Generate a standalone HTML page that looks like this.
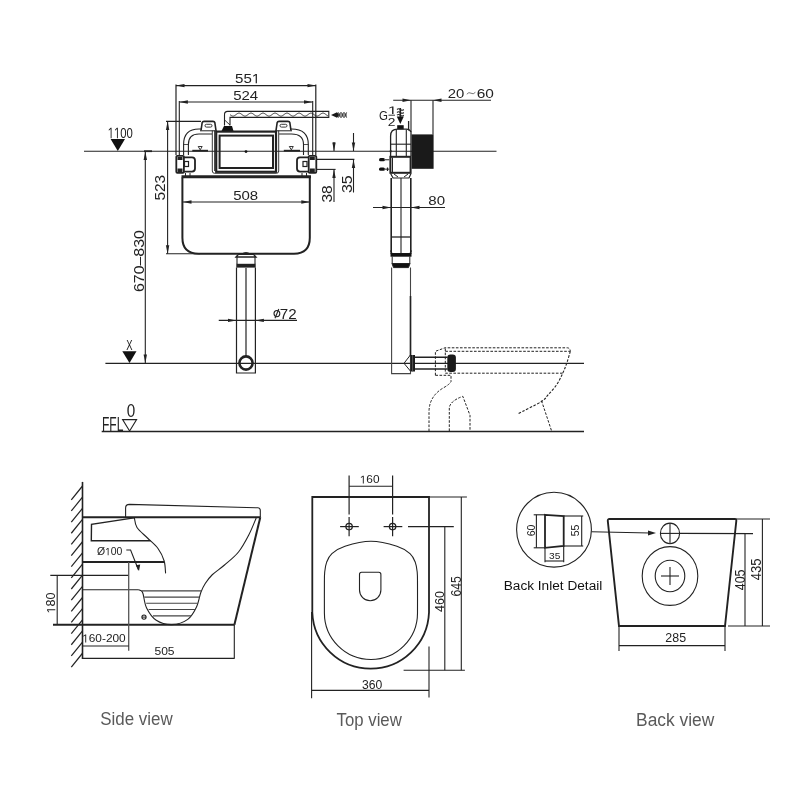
<!DOCTYPE html>
<html><head><meta charset="utf-8"><style>
html,body{margin:0;padding:0;background:#fff;}
svg{display:block;will-change:transform;}
text{font-family:"Liberation Sans",sans-serif;}
</style></head><body>
<svg width="800" height="800" viewBox="0 0 800 800">
<rect x="0" y="0" width="800" height="800" fill="#fff"/>
<line x1="84" y1="151.2" x2="496.5" y2="151.2" stroke="#222" stroke-width="1.1" />
<line x1="105.4" y1="363.3" x2="584" y2="363.3" stroke="#222" stroke-width="1.3" />
<line x1="101.7" y1="431.5" x2="584" y2="431.5" stroke="#222" stroke-width="1.3" />
<polygon points="110.6,139 125,139 117.8,151" stroke="#222" stroke-width="0" fill="#111" />
<text transform="translate(107.71,138.35) scale(0.730,1)" font-size="15.54" fill="#222" font-family="Liberation Sans" font-weight="normal">  00</text>
<path transform="translate(107.71,138.35) scale(0.730,1)" d="M5.280,0.000 L5.280,-10.689 L4.021,-10.689 L1.494,-8.952 L1.494,-7.662 L4.021,-9.384 L4.021,0.000 Z" fill="#222"/>
<path transform="translate(107.71,138.35) scale(0.730,1)" d="M13.921,0.000 L13.921,-10.689 L12.661,-10.689 L10.135,-8.952 L10.135,-7.662 L12.661,-9.384 L12.661,0.000 Z" fill="#222"/>
<polygon points="122.3,351.3 136.5,351.3 129.5,363" stroke="#222" stroke-width="0" fill="#111" />
<text transform="translate(126.29,350.00) scale(0.651,1)" font-size="14.54" fill="#222" font-family="Liberation Sans" font-weight="normal">X</text>
<polygon points="122.6,419.6 136.6,419.6 129.6,431" stroke="#222" stroke-width="1.1" fill="none" />
<text transform="translate(102.01,431.00) scale(0.604,1)" font-size="19.91" fill="#222" font-family="Liberation Sans" font-weight="normal">FFL</text>
<text transform="translate(126.80,417.43) scale(0.858,1)" font-size="17.80" fill="#222" font-family="Liberation Sans" font-weight="normal">0</text>
<line x1="176" y1="85.6" x2="316" y2="85.6" stroke="#222" stroke-width="1.1" />
<polygon points="176.00,85.60 184.50,83.90 184.50,87.30" fill="#222" stroke="none"/>
<polygon points="316.00,85.60 307.50,83.90 307.50,87.30" fill="#222" stroke="none"/>
<line x1="176" y1="84.4" x2="176" y2="155" stroke="#222" stroke-width="1.2" />
<line x1="315.8" y1="84.4" x2="315.8" y2="155" stroke="#222" stroke-width="1.2" />
<text transform="translate(235.00,83.37) scale(1.108,1)" font-size="13.62" fill="#222" font-family="Liberation Sans" font-weight="normal">55 </text>
<path transform="translate(235.00,83.37) scale(1.108,1)" d="M19.771,0.000 L19.771,-9.367 L18.668,-9.367 L16.454,-7.845 L16.454,-6.714 L18.668,-8.224 L18.668,0.000 Z" fill="#222"/>
<line x1="179.4" y1="102" x2="312.5" y2="102" stroke="#222" stroke-width="1.1" />
<polygon points="179.40,102.00 187.90,100.30 187.90,103.70" fill="#222" stroke="none"/>
<polygon points="312.50,102.00 304.00,100.30 304.00,103.70" fill="#222" stroke="none"/>
<line x1="179.3" y1="101" x2="179.3" y2="155" stroke="#222" stroke-width="1.1" />
<line x1="312.7" y1="101" x2="312.7" y2="155" stroke="#222" stroke-width="1.1" />
<text transform="translate(233.15,99.87) scale(1.130,1)" font-size="13.28" fill="#222" font-family="Liberation Sans" font-weight="normal">524</text>
<line x1="166" y1="121.4" x2="201" y2="121.4" stroke="#222" stroke-width="1.1" />
<line x1="167.6" y1="121.4" x2="167.6" y2="253.8" stroke="#222" stroke-width="1.1" />
<polygon points="167.60,121.40 165.90,129.90 169.30,129.90" fill="#222" stroke="none"/>
<polygon points="167.60,253.80 165.90,245.30 169.30,245.30" fill="#222" stroke="none"/>
<line x1="166" y1="253.8" x2="200" y2="253.8" stroke="#222" stroke-width="1.1" />
<text transform="translate(165.45,200.62) rotate(-90) scale(1.029,1)" font-size="14.97" fill="#222" font-family="Liberation Sans" font-weight="normal">523</text>
<line x1="145.3" y1="151.2" x2="145.3" y2="363.3" stroke="#222" stroke-width="1.1" />
<polygon points="145.30,151.50 143.60,160.00 147.00,160.00" fill="#222" stroke="none"/>
<polygon points="145.30,363.00 143.60,354.50 147.00,354.50" fill="#222" stroke="none"/>
<line x1="144" y1="151.2" x2="152" y2="151.2" stroke="#222" stroke-width="1.8" />
<text transform="translate(143.60,292.06) rotate(-90) scale(1.050,1)" font-size="15.18" fill="#222" font-family="Liberation Sans" font-weight="normal">670–830</text>
<path d="M182.4,177.5 V237.8 Q182.4,253.7 198.6,253.7 H294 Q309.8,253.7 309.8,237.8 V177.5" stroke="#222" stroke-width="2.0" fill="none" />
<line x1="181.5" y1="176.7" x2="311" y2="176.7" stroke="#222" stroke-width="3" />
<line x1="182.5" y1="202" x2="310" y2="202" stroke="#222" stroke-width="1.1" />
<polygon points="183.00,202.00 191.50,200.30 191.50,203.70" fill="#222" stroke="none"/>
<polygon points="309.80,202.00 301.30,200.30 301.30,203.70" fill="#222" stroke="none"/>
<text transform="translate(233.15,199.87) scale(1.129,1)" font-size="13.28" fill="#222" font-family="Liberation Sans" font-weight="normal">508</text>
<path d="M236.5,267.5 V373 H255.4 V267.5" stroke="#222" stroke-width="1.2" fill="none" />
<line x1="246" y1="268" x2="246" y2="357" stroke="#222" stroke-width="1.2" />
<path d="M236,257 L238.5,254.3 H253.5 L256,257 Z" stroke="#222" stroke-width="1.3" fill="none" />
<path d="M241.5,254.3 Q246,250.8 250.5,254.3" stroke="#222" stroke-width="1" fill="none" />
<line x1="237" y1="257" x2="237" y2="264" stroke="#222" stroke-width="1.1" />
<line x1="255" y1="257" x2="255" y2="264" stroke="#222" stroke-width="1.1" />
<rect x="236.3" y="263.8" width="19.399999999999977" height="3.8000000000000114" fill="#222"/>
<circle cx="246" cy="363" r="6.6" stroke="#222" stroke-width="2.6" fill="none"/>
<line x1="218.75" y1="320.4" x2="297" y2="320.4" stroke="#222" stroke-width="1.1" />
<polygon points="236.50,320.40 228.00,318.70 228.00,322.10" fill="#222" stroke="none"/>
<polygon points="255.40,320.40 263.90,318.70 263.90,322.10" fill="#222" stroke="none"/>
<text transform="translate(279.82,318.60) scale(1.101,1)" font-size="13.75" fill="#222" font-family="Liberation Sans" font-weight="normal">72</text>
<ellipse cx="276.9" cy="313.6" rx="2.9" ry="3.1" stroke="#222" stroke-width="1.1" fill="none"/>
<line x1="275.0" y1="318.2" x2="278.8" y2="309.0" stroke="#222" stroke-width="1.1" />
<line x1="334" y1="142" x2="334" y2="151" stroke="#222" stroke-width="1.1" />
<polygon points="334.00,151.00 332.30,142.50 335.70,142.50" fill="#222" stroke="none"/>
<line x1="334" y1="169.4" x2="334" y2="202" stroke="#222" stroke-width="1.1" />
<polygon points="334.00,169.40 332.30,177.90 335.70,177.90" fill="#222" stroke="none"/>
<line x1="316" y1="169.4" x2="335.6" y2="169.4" stroke="#222" stroke-width="1.1" />
<text transform="translate(331.86,202.59) rotate(-90) scale(1.099,1)" font-size="14.12" fill="#222" font-family="Liberation Sans" font-weight="normal">38</text>
<line x1="353.5" y1="133" x2="353.5" y2="151" stroke="#222" stroke-width="1.1" />
<polygon points="353.50,151.00 351.80,142.50 355.20,142.50" fill="#222" stroke="none"/>
<line x1="353.5" y1="159.4" x2="353.5" y2="192.5" stroke="#222" stroke-width="1.1" />
<polygon points="353.50,159.40 351.80,167.90 355.20,167.90" fill="#222" stroke="none"/>
<line x1="316" y1="159.4" x2="354.4" y2="159.4" stroke="#222" stroke-width="1.1" />
<text transform="translate(351.85,193.11) rotate(-90) scale(1.029,1)" font-size="15.54" fill="#222" font-family="Liberation Sans" font-weight="normal">35</text>
<path d="M224.5,125.5 V114.5 Q224.5,111.4 227.6,111.4 H328.8 V117.4 H230 V125.5" stroke="#222" stroke-width="1.1" fill="none" />
<path d="M230.0,114.60 L230.5,114.99 L231.0,115.35 L231.5,115.66 L232.0,115.90 L232.5,116.05 L233.0,116.10 L233.5,116.05 L234.0,115.90 L234.5,115.66 L235.0,115.35 L235.5,114.99 L236.0,114.60 L236.5,114.21 L237.0,113.85 L237.5,113.54 L238.0,113.30 L238.5,113.15 L239.0,113.10 L239.5,113.15 L240.0,113.30 L240.5,113.54 L241.0,113.85 L241.5,114.21 L242.0,114.60 L242.5,114.99 L243.0,115.35 L243.5,115.66 L244.0,115.90 L244.5,116.05 L245.0,116.10 L245.5,116.05 L246.0,115.90 L246.5,115.66 L247.0,115.35 L247.5,114.99 L248.0,114.60 L248.5,114.21 L249.0,113.85 L249.5,113.54 L250.0,113.30 L250.5,113.15 L251.0,113.10 L251.5,113.15 L252.0,113.30 L252.5,113.54 L253.0,113.85 L253.5,114.21 L254.0,114.60 L254.5,114.99 L255.0,115.35 L255.5,115.66 L256.0,115.90 L256.5,116.05 L257.0,116.10 L257.5,116.05 L258.0,115.90 L258.5,115.66 L259.0,115.35 L259.5,114.99 L260.0,114.60 L260.5,114.21 L261.0,113.85 L261.5,113.54 L262.0,113.30 L262.5,113.15 L263.0,113.10 L263.5,113.15 L264.0,113.30 L264.5,113.54 L265.0,113.85 L265.5,114.21 L266.0,114.60 L266.5,114.99 L267.0,115.35 L267.5,115.66 L268.0,115.90 L268.5,116.05 L269.0,116.10 L269.5,116.05 L270.0,115.90 L270.5,115.66 L271.0,115.35 L271.5,114.99 L272.0,114.60 L272.5,114.21 L273.0,113.85 L273.5,113.54 L274.0,113.30 L274.5,113.15 L275.0,113.10 L275.5,113.15 L276.0,113.30 L276.5,113.54 L277.0,113.85 L277.5,114.21 L278.0,114.60 L278.5,114.99 L279.0,115.35 L279.5,115.66 L280.0,115.90 L280.5,116.05 L281.0,116.10 L281.5,116.05 L282.0,115.90 L282.5,115.66 L283.0,115.35 L283.5,114.99 L284.0,114.60 L284.5,114.21 L285.0,113.85 L285.5,113.54 L286.0,113.30 L286.5,113.15 L287.0,113.10 L287.5,113.15 L288.0,113.30 L288.5,113.54 L289.0,113.85 L289.5,114.21 L290.0,114.60 L290.5,114.99 L291.0,115.35 L291.5,115.66 L292.0,115.90 L292.5,116.05 L293.0,116.10 L293.5,116.05 L294.0,115.90 L294.5,115.66 L295.0,115.35 L295.5,114.99 L296.0,114.60 L296.5,114.21 L297.0,113.85 L297.5,113.54 L298.0,113.30 L298.5,113.15 L299.0,113.10 L299.5,113.15 L300.0,113.30 L300.5,113.54 L301.0,113.85 L301.5,114.21 L302.0,114.60 L302.5,114.99 L303.0,115.35 L303.5,115.66 L304.0,115.90 L304.5,116.05 L305.0,116.10 L305.5,116.05 L306.0,115.90 L306.5,115.66 L307.0,115.35 L307.5,114.99 L308.0,114.60 L308.5,114.21 L309.0,113.85 L309.5,113.54 L310.0,113.30 L310.5,113.15 L311.0,113.10 L311.5,113.15 L312.0,113.30 L312.5,113.54 L313.0,113.85 L313.5,114.21 L314.0,114.60 L314.5,114.99 L315.0,115.35 L315.5,115.66 L316.0,115.90 L316.5,116.05 L317.0,116.10 L317.5,116.05 L318.0,115.90 L318.5,115.66 L319.0,115.35 L319.5,114.99 L320.0,114.60 L320.5,114.21 L321.0,113.85 L321.5,113.54 L322.0,113.30 L322.5,113.15 L323.0,113.10 L323.5,113.15 L324.0,113.30 L324.5,113.54 L325.0,113.85 L325.5,114.21 L326.0,114.60 L326.5,114.99 L327.0,115.35 L327.5,115.66 L328.0,115.90" stroke="#222" stroke-width="0.9" fill="none" />
<path d="M224.6,120 L230,125" stroke="#222" stroke-width="0.9" fill="none" />
<polygon points="221.5,131 224,126 232,126 233.5,131" stroke="#222" stroke-width="0" fill="#111" />
<polygon points="331,115 337,112.3 339.5,115 337,117.7" stroke="#222" stroke-width="0" fill="#1a1a1a" />
<path d="M338.0,117.60 L338.5,117.25 L339.0,116.30 L339.5,115.00 L340.0,113.70 L340.5,112.75 L341.0,112.40 L341.5,112.75 L342.0,113.70 L342.5,115.00 L343.0,116.30 L343.5,117.25 L344.0,117.60 L344.5,117.25 L345.0,116.30 L345.5,115.00 L346.0,113.70 L346.5,112.75 L347.0,112.40" stroke="#222" stroke-width="1.0" fill="none" />
<path d="M338.0,112.40 L338.5,112.75 L339.0,113.70 L339.5,115.00 L340.0,116.30 L340.5,117.25 L341.0,117.60 L341.5,117.25 L342.0,116.30 L342.5,115.00 L343.0,113.70 L343.5,112.75 L344.0,112.40 L344.5,112.75 L345.0,113.70 L345.5,115.00 L346.0,116.30 L346.5,117.25 L347.0,117.60" stroke="#222" stroke-width="1.0" fill="none" />
<line x1="338" y1="115" x2="347" y2="115" stroke="#555" stroke-width="1.0" />
<line x1="212.3" y1="130.5" x2="212.3" y2="171" stroke="#222" stroke-width="0.9" />
<line x1="278.7" y1="130.5" x2="278.7" y2="171" stroke="#222" stroke-width="0.9" />
<line x1="214.6" y1="130.5" x2="214.6" y2="171" stroke="#222" stroke-width="0.9" />
<line x1="276.4" y1="130.5" x2="276.4" y2="171" stroke="#222" stroke-width="0.9" />
<path d="M212.3,171 Q212.3,173.3 214.6,173.3 H276.4 Q278.7,173.3 278.7,171" stroke="#222" stroke-width="0.9" fill="none" />
<rect x="216.2" y="131.6" width="59.8" height="40.2" rx="0" stroke="#222" stroke-width="2.2" fill="none" />
<rect x="219.6" y="135.6" width="53.4" height="32.4" rx="0" stroke="#222" stroke-width="2.0" fill="none" />
<circle cx="246" cy="151.6" r="1.4" stroke="#222" stroke-width="0" fill="#111"/>
<path d="M201,130.5 L202.2,122.5 Q202.5,121.4 204,121.4 H213 Q214.5,121.4 214.8,122.5 L216,130.5" stroke="#222" stroke-width="1.6" fill="none" />
<rect x="205" y="124.3" width="7" height="2.8" rx="1.4" stroke="#222" stroke-width="0.9" fill="none" />
<line x1="200" y1="130.8" x2="217" y2="130.8" stroke="#222" stroke-width="1" />
<path d="M276,130.5 L277.2,122.5 Q277.5,121.4 279,121.4 H288 Q289.5,121.4 289.8,122.5 L291,130.5" stroke="#222" stroke-width="1.6" fill="none" />
<rect x="280" y="124.3" width="7" height="2.8" rx="1.4" stroke="#222" stroke-width="0.9" fill="none" />
<line x1="275" y1="130.8" x2="292" y2="130.8" stroke="#222" stroke-width="1" />
<path d="M183.6,155 V144.5 Q183.6,129 199,129 H201.5" stroke="#222" stroke-width="1.1" fill="none" />
<path d="M188.4,155 V144.5 Q188.4,134 199,134 H212" stroke="#222" stroke-width="1.1" fill="none" />
<line x1="183.6" y1="144.5" x2="188.4" y2="144.5" stroke="#222" stroke-width="0.8" />
<path d="M308.3,155 V144.5 Q308.3,129 291.5,129 H290.5" stroke="#222" stroke-width="1.1" fill="none" />
<path d="M303.5,155 V144.5 Q303.5,134 291.5,134 H279" stroke="#222" stroke-width="1.1" fill="none" />
<line x1="303.5" y1="144.5" x2="308.3" y2="144.5" stroke="#222" stroke-width="0.8" />
<polygon points="198.2,146.5 202.2,146.5 200.2,149.8" stroke="#222" stroke-width="0.9" fill="none" />
<line x1="192.3" y1="150.7" x2="208" y2="150.7" stroke="#222" stroke-width="1.8" />
<polygon points="289.3,146.5 293.3,146.5 291.3,149.8" stroke="#222" stroke-width="0.9" fill="none" />
<line x1="283.8" y1="150.7" x2="300" y2="150.7" stroke="#222" stroke-width="1.8" />
<rect x="176.3" y="155.8" width="7.6" height="17" rx="1" stroke="#222" stroke-width="1.8" fill="none" />
<path d="M184,157.3 H192 Q195,157.3 195,160.3 V168.6 Q195,171.6 192,171.6 H184" stroke="#222" stroke-width="1.8" fill="none" />
<rect x="184.5" y="161.5" width="4" height="5" rx="0" stroke="#222" stroke-width="1.2" fill="none" />
<rect x="177.5" y="157" width="5.0" height="3" fill="#222"/>
<rect x="177.5" y="168.5" width="5.0" height="3.5" fill="#222"/>
<rect x="308.7" y="155.8" width="7.6" height="17" rx="1" stroke="#222" stroke-width="1.8" fill="none" />
<path d="M308.5,157.3 H300 Q297,157.3 297,160.3 V168.6 Q297,171.6 300,171.6 H308.5" stroke="#222" stroke-width="1.8" fill="none" />
<rect x="303" y="161.5" width="4" height="5" rx="0" stroke="#222" stroke-width="1.2" fill="none" />
<rect x="309.8" y="157" width="5.0" height="3" fill="#222"/>
<rect x="309.8" y="168.5" width="5.0" height="3.5" fill="#222"/>
<line x1="185.5" y1="173" x2="185.5" y2="176" stroke="#222" stroke-width="1" />
<line x1="190" y1="173" x2="190" y2="176" stroke="#222" stroke-width="1" />
<line x1="302" y1="173" x2="302" y2="176" stroke="#222" stroke-width="1" />
<line x1="306.5" y1="173" x2="306.5" y2="176" stroke="#222" stroke-width="1" />
<line x1="393.2" y1="100.3" x2="491" y2="100.3" stroke="#222" stroke-width="1.1" />
<polygon points="411.00,100.30 402.50,98.60 402.50,102.00" fill="#222" stroke="none"/>
<polygon points="433.00,100.30 441.50,98.60 441.50,102.00" fill="#222" stroke="none"/>
<line x1="411" y1="100.3" x2="411" y2="132" stroke="#222" stroke-width="1.1" />
<line x1="433" y1="100.3" x2="433" y2="134.5" stroke="#222" stroke-width="1.1" />
<text transform="translate(447.75,98.07) scale(1.085,1)" font-size="13.70" fill="#222" font-family="Liberation Sans" font-weight="normal">20</text>
<path d="M466.8,94.2 Q468.8,91.6 471,93.2 Q473.2,94.8 475.4,92.3" stroke="#666" stroke-width="0.9" fill="none" />
<text transform="translate(476.72,98.07) scale(1.128,1)" font-size="13.70" fill="#222" font-family="Liberation Sans" font-weight="normal">60</text>
<text transform="translate(378.92,120.38) scale(0.904,1)" font-size="12.71" fill="#222" font-family="Liberation Sans" font-weight="normal">G</text>
<text transform="translate(387.50,114.00) scale(1.619,1)" font-size="10.90" fill="#222" font-family="Liberation Sans" font-weight="normal"> </text>
<path transform="translate(387.50,114.00) scale(1.619,1)" d="M3.705,0.000 L3.705,-7.500 L2.821,-7.500 L1.049,-6.281 L1.049,-5.376 L2.821,-6.584 L2.821,0.000 Z" fill="#222"/>
<line x1="388.5" y1="115.2" x2="395" y2="115.2" stroke="#222" stroke-width="0.9" />
<text transform="translate(387.80,125.50) scale(1.287,1)" font-size="10.74" fill="#222" font-family="Liberation Sans" font-weight="normal">2</text>
<polygon points="396.8,116.5 403.8,116.5 400.3,124" stroke="#222" stroke-width="0" fill="#111" />
<line x1="400.3" y1="108" x2="400.3" y2="117" stroke="#222" stroke-width="1.6" />
<path d="M397,109.5 q1.5,-1.5 3.3,0 q1.8,1.5 3.5,0 M397,112.5 q1.5,-1.5 3.3,0 q1.8,1.5 3.5,0 M397,115.2 q1.5,-1.5 3.3,0 q1.8,1.5 3.5,0" stroke="#222" stroke-width="1.1" fill="none" />
<rect x="397.2" y="125.2" width="6.5" height="4.1000000000000085" fill="#111"/>
<line x1="408.6" y1="121" x2="408.6" y2="130.5" stroke="#222" stroke-width="1.3" />
<path d="M390.6,156 V136 Q390.6,129.2 397.5,129.2 H406.5 Q409.5,129.2 411,132 V156" stroke="#222" stroke-width="1.3" fill="none" />
<line x1="396.3" y1="129.5" x2="396.3" y2="156" stroke="#222" stroke-width="1.1" />
<line x1="406.3" y1="129.5" x2="406.3" y2="156" stroke="#222" stroke-width="1.1" />
<line x1="390.6" y1="144.2" x2="411" y2="144.2" stroke="#222" stroke-width="1.1" />
<rect x="411.6" y="134.4" width="22.0" height="34.400000000000006" fill="#1a1a1a"/>
<line x1="389.8" y1="151.2" x2="391.6" y2="151.2" stroke="#222" stroke-width="2" />
<rect x="390.4" y="156.8" width="20.2" height="16" rx="0" stroke="#222" stroke-width="2" fill="none" />
<line x1="392.5" y1="157.5" x2="392.5" y2="172.5" stroke="#222" stroke-width="1" />
<rect x="379" y="158.1" width="6" height="3.2" rx="1.6" stroke="#222" stroke-width="0" fill="#111" />
<line x1="384" y1="159.7" x2="389.5" y2="159.7" stroke="#555" stroke-width="1.3" />
<rect x="379" y="167.6" width="6" height="3.2" rx="1.6" stroke="#222" stroke-width="0" fill="#111" />
<line x1="384" y1="169.2" x2="389.5" y2="169.2" stroke="#555" stroke-width="1.3" />
<line x1="387.5" y1="167.5" x2="387.5" y2="171" stroke="#222" stroke-width="1.2" />
<path d="M390.6,173.5 L393,178 H409 L411,173.5" stroke="#222" stroke-width="1.2" fill="none" />
<path d="M394,174 L398,177 M408,174 L404,177" stroke="#222" stroke-width="1" fill="none" />
<line x1="391.2" y1="178" x2="391.2" y2="254" stroke="#222" stroke-width="1.6" />
<line x1="410.8" y1="178" x2="410.8" y2="254" stroke="#222" stroke-width="1.6" />
<line x1="401" y1="178" x2="401" y2="253" stroke="#222" stroke-width="1.1" />
<line x1="391" y1="237" x2="411" y2="237" stroke="#222" stroke-width="1.3" />
<path d="M390.5,250.5 L392,253.5 H410 L411.5,250.5" stroke="#222" stroke-width="1.2" fill="none" />
<rect x="390.5" y="253.3" width="21.0" height="3.3999999999999773" fill="#111"/>
<line x1="392.2" y1="256.5" x2="392.2" y2="264" stroke="#222" stroke-width="1" />
<line x1="409.8" y1="256.5" x2="409.8" y2="264" stroke="#222" stroke-width="1" />
<path d="M392,263.5 L393.5,267.6 H408.5 L410,263.5 Z" stroke="#222" stroke-width="1" fill="#111" />
<path d="M391.6,267.6 V373.6 H410.5 V267.6" stroke="#444" stroke-width="1.1" fill="none" />
<line x1="410.5" y1="296" x2="410.5" y2="356" stroke="#222" stroke-width="1.6" />
<line x1="373" y1="207.5" x2="445" y2="207.5" stroke="#222" stroke-width="1.1" />
<polygon points="391.00,207.50 382.50,205.80 382.50,209.20" fill="#222" stroke="none"/>
<polygon points="411.00,207.50 419.50,205.80 419.50,209.20" fill="#222" stroke="none"/>
<text transform="translate(428.35,205.37) scale(1.122,1)" font-size="13.42" fill="#222" font-family="Liberation Sans" font-weight="normal">80</text>
<path d="M410.4,355 L404,363.3 L410.4,371" stroke="#222" stroke-width="1" fill="none" />
<rect x="410.6" y="355" width="4.399999999999977" height="16.5" fill="#1a1a1a"/>
<line x1="412.6" y1="355" x2="412.6" y2="371.5" stroke="#666" stroke-width="0.8" />
<line x1="415" y1="357.3" x2="447.5" y2="357.3" stroke="#222" stroke-width="1.4" />
<line x1="415" y1="369" x2="447.5" y2="369" stroke="#222" stroke-width="1.4" />
<rect x="447.3" y="354.4" width="8.6" height="17.6" rx="3.2" stroke="#222" stroke-width="0" fill="#1a1a1a" />
<path d="M435.4,375.3 V351.3 L445,347.8 H567.5 Q570.3,348.2 570.3,351.3" stroke="#222" stroke-width="1" fill="none" stroke-dasharray="2.6,1.5"/>
<line x1="445.3" y1="351.3" x2="570.3" y2="351.3" stroke="#222" stroke-width="1" stroke-dasharray="2.6,1.5"/>
<path d="M445.3,348.5 V373.2 H564" stroke="#222" stroke-width="1" fill="none" stroke-dasharray="2.6,1.5"/>
<path d="M435.4,375.3 H451 V381.5 Q450,384 444,387.5 Q429,396 429,412 V431" stroke="#222" stroke-width="1" fill="none" stroke-dasharray="2.6,1.5"/>
<path d="M449.3,431 V408 Q450,401 462.8,396.3 L470,415.3 V431" stroke="#222" stroke-width="1" fill="none" stroke-dasharray="2.6,1.5"/>
<path d="M570.30,351.30 C569.72,353.25 568.07,359.33 566.80,363.00 C565.53,366.67 564.42,369.63 562.70,373.30 C560.98,376.97 558.91,381.45 556.50,385.00 C554.09,388.55 550.77,391.85 548.25,394.60 C545.73,397.35 546.46,398.30 541.40,401.50 C536.34,404.70 521.82,411.75 517.90,413.80" stroke="#222" stroke-width="1.1" fill="none" stroke-dasharray="2.6,1.5"/>
<path d="M541.5,400.7 L551.6,431" stroke="#222" stroke-width="1" fill="none" stroke-dasharray="2.6,1.5"/>
<line x1="82.5" y1="481.9" x2="82.5" y2="659" stroke="#222" stroke-width="1.6" />
<line x1="82.5" y1="486.0" x2="71.3" y2="499.8" stroke="#222" stroke-width="1.2" />
<line x1="82.5" y1="497.15" x2="71.3" y2="510.95" stroke="#222" stroke-width="1.2" />
<line x1="82.5" y1="508.29999999999995" x2="71.3" y2="522.0999999999999" stroke="#222" stroke-width="1.2" />
<line x1="82.5" y1="519.4499999999999" x2="71.3" y2="533.2499999999999" stroke="#222" stroke-width="1.2" />
<line x1="82.5" y1="530.5999999999999" x2="71.3" y2="544.3999999999999" stroke="#222" stroke-width="1.2" />
<line x1="82.5" y1="541.7499999999999" x2="71.3" y2="555.5499999999998" stroke="#222" stroke-width="1.2" />
<line x1="82.5" y1="552.8999999999999" x2="71.3" y2="566.6999999999998" stroke="#222" stroke-width="1.2" />
<line x1="82.5" y1="564.0499999999998" x2="71.3" y2="577.8499999999998" stroke="#222" stroke-width="1.2" />
<line x1="82.5" y1="575.1999999999998" x2="71.3" y2="588.9999999999998" stroke="#222" stroke-width="1.2" />
<line x1="82.5" y1="586.3499999999998" x2="71.3" y2="600.1499999999997" stroke="#222" stroke-width="1.2" />
<line x1="82.5" y1="597.4999999999998" x2="71.3" y2="611.2999999999997" stroke="#222" stroke-width="1.2" />
<line x1="82.5" y1="608.6499999999997" x2="71.3" y2="622.4499999999997" stroke="#222" stroke-width="1.2" />
<line x1="82.5" y1="619.7999999999997" x2="71.3" y2="633.5999999999997" stroke="#222" stroke-width="1.2" />
<line x1="82.5" y1="630.9499999999997" x2="71.3" y2="644.7499999999997" stroke="#222" stroke-width="1.2" />
<line x1="82.5" y1="642.0999999999997" x2="71.3" y2="655.8999999999996" stroke="#222" stroke-width="1.2" />
<line x1="82.5" y1="653.2499999999997" x2="71.3" y2="667.0499999999996" stroke="#222" stroke-width="1.2" />
<path d="M125.6,517 V508 Q125.6,504.4 129.5,504.4 L258,507.8 Q260.3,508 260.3,510.5 V517" stroke="#222" stroke-width="1.1" fill="none" />
<line x1="82.5" y1="517.2" x2="260.5" y2="517.2" stroke="#222" stroke-width="2.1" />
<line x1="260.3" y1="517.2" x2="234.4" y2="624.8" stroke="#222" stroke-width="2" />
<polyline points="134,517.9 91.5,524.4 91.3,540.8 150.6,540.8" stroke="#222" stroke-width="1.4" fill="none" />
<path d="M134.40,517.90 C134.83,519.50 134.82,524.15 137.00,527.50 C139.18,530.85 144.00,534.50 147.50,538.00 C151.00,541.50 155.23,544.71 158.00,548.50 C160.77,552.29 162.83,556.60 164.10,560.75 C165.37,564.90 165.35,571.29 165.60,573.40" stroke="#222" stroke-width="1.1" fill="none" />
<line x1="82.5" y1="562" x2="164" y2="562" stroke="#222" stroke-width="2" />
<text transform="translate(96.89,555.33) scale(0.986,1)" font-size="10.58" fill="#222" font-family="Liberation Sans" font-weight="normal">Ø 00</text>
<path transform="translate(96.89,555.33) scale(0.986,1)" d="M11.829,0.000 L11.829,-7.282 L10.971,-7.282 L9.250,-6.098 L9.250,-5.220 L10.971,-6.393 L10.971,0.000 Z" fill="#222"/>
<polyline points="126.3,550 130.6,550 138.5,570" stroke="#222" stroke-width="1.1" fill="none" />
<polygon points="135.8,565.2 139,571 140.2,564.4" stroke="#222" stroke-width="0" fill="#222" />
<line x1="50.3" y1="575.4" x2="128.7" y2="575.4" stroke="#222" stroke-width="1.1" />
<line x1="82.5" y1="589.7" x2="138.8" y2="589.7" stroke="#222" stroke-width="1.1" />
<path d="M256.20,518.00 C255.00,520.75 251.95,528.83 249.00,534.50 C246.05,540.17 242.58,546.92 238.50,552.00 C234.42,557.08 228.88,561.21 224.50,565.00 C220.12,568.79 215.46,571.67 212.25,574.75 C209.04,577.83 207.14,580.58 205.25,583.50 C203.36,586.42 202.36,588.33 200.90,592.25 C199.44,596.17 198.69,602.48 196.50,607.00 C194.31,611.52 191.83,616.47 187.75,619.40 C183.67,622.33 177.25,624.46 172.00,624.60 C166.75,624.74 160.48,623.02 156.25,620.25 C152.02,617.48 148.79,612.38 146.60,608.00 C144.41,603.62 143.97,596.85 143.10,594.00 C142.23,591.15 142.12,591.60 141.40,590.90 C140.68,590.20 139.19,589.98 138.75,589.80" stroke="#222" stroke-width="1.1" fill="none" />
<line x1="141.5" y1="590.9" x2="201.5" y2="590.9" stroke="#444" stroke-width="1.1" />
<line x1="144.3" y1="597.1" x2="199.5" y2="597.1" stroke="#444" stroke-width="1.1" />
<line x1="146.2" y1="603.2" x2="197.6" y2="603.2" stroke="#444" stroke-width="1.1" />
<line x1="148.6" y1="609.5" x2="195.2" y2="609.5" stroke="#444" stroke-width="1.1" />
<line x1="153" y1="615.9" x2="191.2" y2="615.9" stroke="#444" stroke-width="1.1" />
<circle cx="144" cy="617.1" r="2.1" stroke="#222" stroke-width="1.1" fill="none"/>
<line x1="142" y1="617.1" x2="146" y2="617.1" stroke="#222" stroke-width="1" />
<line x1="53" y1="624.7" x2="234.5" y2="624.7" stroke="#222" stroke-width="2.1" />
<line x1="57.2" y1="575.4" x2="57.2" y2="624.7" stroke="#222" stroke-width="1.1" />
<text transform="translate(55.28,613.51) rotate(-90) scale(1.049,1)" font-size="12.01" fill="#222" font-family="Liberation Sans" font-weight="normal"> 80</text>
<path transform="translate(55.28,613.51) rotate(-90) scale(1.049,1)" d="M4.080,0.000 L4.080,-8.260 L3.107,-8.260 L1.155,-6.917 L1.155,-5.921 L3.107,-7.251 L3.107,0.000 Z" fill="#222"/>
<line x1="128.7" y1="562" x2="128.7" y2="650.8" stroke="#555" stroke-width="1.3" />
<text transform="translate(82.16,642.39) scale(1.026,1)" font-size="11.58" fill="#222" font-family="Liberation Sans" font-weight="normal"> 60-200</text>
<path transform="translate(82.16,642.39) scale(1.026,1)" d="M3.936,0.000 L3.936,-7.968 L2.997,-7.968 L1.114,-6.673 L1.114,-5.712 L2.997,-6.995 L2.997,0.000 Z" fill="#222"/>
<line x1="82.5" y1="646" x2="128.7" y2="646" stroke="#222" stroke-width="1.1" />
<line x1="234.3" y1="624.7" x2="234.3" y2="658.8" stroke="#222" stroke-width="1.1" />
<line x1="82.5" y1="658.4" x2="234.3" y2="658.4" stroke="#222" stroke-width="1.1" />
<text transform="translate(154.42,654.99) scale(1.045,1)" font-size="11.58" fill="#222" font-family="Liberation Sans" font-weight="normal">505</text>
<path d="M312.3,497 V612.5 A58.4,58.6 0 0 0 429,612.5 V497 Z" stroke="#222" stroke-width="1.8" fill="none" />
<path d="M324.40,613.00 C324.40,608.33 324.35,591.83 324.40,585.00 C324.45,578.17 324.33,575.77 324.70,572.00 C325.07,568.23 325.40,565.47 326.60,562.40 C327.80,559.33 328.83,556.30 331.90,553.60 C334.97,550.90 338.49,548.25 345.00,546.20 C351.51,544.15 362.30,541.30 370.95,541.30 C379.60,541.30 390.39,544.15 396.90,546.20 C403.41,548.25 406.93,550.90 410.00,553.60 C413.07,556.30 414.10,559.33 415.30,562.40 C416.50,565.47 416.83,568.23 417.20,572.00 C417.57,575.77 417.45,578.17 417.50,585.00 C417.55,591.83 417.50,608.33 417.50,613.00 A46.5,46.5 0 0 1 370.95,659.5 A46.5,46.5 0 0 1 324.4,613" stroke="#222" stroke-width="1.1" fill="none" />
<path d="M361.5,572.3 H378.8 Q380.9,572.3 380.9,574.4 V590 A10.7,10.7 0 0 1 359.5,590 V574.4 Q359.5,572.3 361.5,572.3 Z" stroke="#222" stroke-width="1.1" fill="none" />
<line x1="349.1" y1="475.6" x2="349.1" y2="514.4" stroke="#222" stroke-width="1.2" />
<line x1="349.1" y1="516.9" x2="349.1" y2="536.3" stroke="#222" stroke-width="1.2" />
<circle cx="349.1" cy="526.6" r="3.2" stroke="#222" stroke-width="1.3" fill="none"/>
<line x1="340.1" y1="526.6" x2="358.8" y2="526.6" stroke="#222" stroke-width="1.2" />
<line x1="392.6" y1="475.6" x2="392.6" y2="514.4" stroke="#222" stroke-width="1.2" />
<line x1="392.6" y1="516.9" x2="392.6" y2="536.3" stroke="#222" stroke-width="1.2" />
<circle cx="392.6" cy="526.6" r="3.2" stroke="#222" stroke-width="1.3" fill="none"/>
<line x1="383.6" y1="526.6" x2="402.3" y2="526.6" stroke="#222" stroke-width="1.2" />
<line x1="349.1" y1="486.3" x2="392.6" y2="486.3" stroke="#222" stroke-width="1.1" />
<text transform="translate(359.76,483.39) scale(1.064,1)" font-size="11.16" fill="#222" font-family="Liberation Sans" font-weight="normal"> 60</text>
<path transform="translate(359.76,483.39) scale(1.064,1)" d="M3.792,0.000 L3.792,-7.677 L2.888,-7.677 L1.073,-6.429 L1.073,-5.503 L2.888,-6.740 L2.888,0.000 Z" fill="#222"/>
<line x1="429" y1="497" x2="466.9" y2="497" stroke="#222" stroke-width="1.1" />
<line x1="408" y1="526.6" x2="453.8" y2="526.6" stroke="#222" stroke-width="1.1" />
<line x1="444.8" y1="526.6" x2="444.8" y2="670.3" stroke="#222" stroke-width="1.1" />
<line x1="461.3" y1="497" x2="461.3" y2="670.3" stroke="#222" stroke-width="1.1" />
<line x1="403.6" y1="670.3" x2="464.9" y2="670.3" stroke="#222" stroke-width="1.1" />
<text transform="translate(443.78,611.89) rotate(-90) scale(1.007,1)" font-size="12.43" fill="#222" font-family="Liberation Sans" font-weight="normal">460</text>
<text transform="translate(460.76,596.52) rotate(-90) scale(0.867,1)" font-size="14.12" fill="#222" font-family="Liberation Sans" font-weight="normal">645</text>
<line x1="311.6" y1="612" x2="311.6" y2="698.3" stroke="#222" stroke-width="1.1" />
<line x1="429" y1="646.6" x2="429" y2="697.4" stroke="#222" stroke-width="1.1" />
<line x1="312" y1="690.4" x2="429" y2="690.4" stroke="#222" stroke-width="1.1" />
<text transform="translate(362.04,689.08) scale(1.021,1)" font-size="11.93" fill="#222" font-family="Liberation Sans" font-weight="normal">360</text>
<circle cx="554" cy="529.7" r="37.4" stroke="#222" stroke-width="1.1" fill="none"/>
<path d="M545,514.8 L563.7,516 V546 L545,547.8 Z" stroke="#222" stroke-width="1.8" fill="none" />
<line x1="533.7" y1="514.8" x2="545" y2="514.8" stroke="#222" stroke-width="1.1" />
<line x1="533.7" y1="547.8" x2="545" y2="547.8" stroke="#222" stroke-width="1.1" />
<line x1="536.4" y1="514.8" x2="536.4" y2="547.8" stroke="#222" stroke-width="1.1" />
<text transform="translate(535.10,536.34) rotate(-90) scale(0.997,1)" font-size="10.59" fill="#222" font-family="Liberation Sans" font-weight="normal">60</text>
<line x1="563.7" y1="516" x2="583.2" y2="516" stroke="#222" stroke-width="1.1" />
<line x1="563.7" y1="546" x2="583.2" y2="546" stroke="#222" stroke-width="1.1" />
<line x1="581.7" y1="516" x2="581.7" y2="546" stroke="#222" stroke-width="1.1" />
<text transform="translate(578.60,536.22) rotate(-90) scale(1.045,1)" font-size="10.03" fill="#222" font-family="Liberation Sans" font-weight="normal">55</text>
<line x1="545" y1="547.8" x2="545" y2="562.2" stroke="#222" stroke-width="1.1" />
<line x1="563.7" y1="546" x2="563.7" y2="562.2" stroke="#222" stroke-width="1.1" />
<line x1="545" y1="561" x2="563.7" y2="561" stroke="#222" stroke-width="1.1" />
<text transform="translate(549.11,559.42) scale(1.200,1)" font-size="8.47" fill="#222" font-family="Liberation Sans" font-weight="normal">35</text>
<text transform="translate(503.68,590.47) scale(1.045,1)" font-size="13.07" fill="#111" font-family="Liberation Sans" font-weight="normal">Back Inlet Detail</text>
<line x1="591.5" y1="531.7" x2="650" y2="533" stroke="#222" stroke-width="1.1" />
<polygon points="656.00,533.00 648.00,530.60 648.00,535.40" fill="#222" stroke="none"/>
<path d="M609.5,519 H735 Q736.5,519 736.3,521 L725,626 H619 L607.8,521 Q607.6,519 609.5,519 Z" stroke="#222" stroke-width="1.9" fill="none" />
<ellipse cx="670" cy="533.4" rx="9.6" ry="10.3" stroke="#222" stroke-width="1.1" fill="none"/>
<line x1="670" y1="523" x2="670" y2="543.6" stroke="#222" stroke-width="1.1" />
<line x1="660.4" y1="533.4" x2="679.6" y2="533.4" stroke="#222" stroke-width="1.1" />
<line x1="679.6" y1="533.4" x2="753" y2="533.6" stroke="#222" stroke-width="1.1" />
<ellipse cx="670" cy="576" rx="27.8" ry="29.4" stroke="#222" stroke-width="1.1" fill="none"/>
<ellipse cx="670" cy="576" rx="14.8" ry="15.8" stroke="#222" stroke-width="1.1" fill="none"/>
<line x1="661" y1="576" x2="679" y2="576" stroke="#222" stroke-width="1.1" />
<line x1="670" y1="567" x2="670" y2="585" stroke="#222" stroke-width="1.1" />
<line x1="736" y1="519" x2="770" y2="519" stroke="#222" stroke-width="1.1" />
<line x1="728" y1="626" x2="770" y2="626" stroke="#222" stroke-width="1.1" />
<line x1="745" y1="533.6" x2="745" y2="626" stroke="#222" stroke-width="1.1" />
<line x1="762.4" y1="519" x2="762.4" y2="626" stroke="#222" stroke-width="1.1" />
<text transform="translate(744.86,590.29) rotate(-90) scale(0.883,1)" font-size="14.12" fill="#222" font-family="Liberation Sans" font-weight="normal">405</text>
<text transform="translate(760.86,580.30) rotate(-90) scale(0.927,1)" font-size="14.12" fill="#222" font-family="Liberation Sans" font-weight="normal">435</text>
<line x1="619" y1="626" x2="619" y2="651" stroke="#222" stroke-width="1.1" />
<line x1="725" y1="626" x2="725" y2="651" stroke="#222" stroke-width="1.1" />
<line x1="619" y1="645.6" x2="725" y2="645.6" stroke="#222" stroke-width="1.1" />
<text transform="translate(665.37,642.28) scale(1.048,1)" font-size="11.86" fill="#222" font-family="Liberation Sans" font-weight="normal">285</text>
<text transform="translate(100.23,724.58) scale(0.968,1)" font-size="17.50" fill="#5a5a5a" font-family="Liberation Sans" font-weight="normal">Side view</text>
<text transform="translate(336.52,725.64) scale(0.926,1)" font-size="18.13" fill="#5a5a5a" font-family="Liberation Sans" font-weight="normal">Top view</text>
<text transform="translate(636.07,725.82) scale(0.946,1)" font-size="18.38" fill="#5a5a5a" font-family="Liberation Sans" font-weight="normal">Back view</text>
</svg>
</body></html>
